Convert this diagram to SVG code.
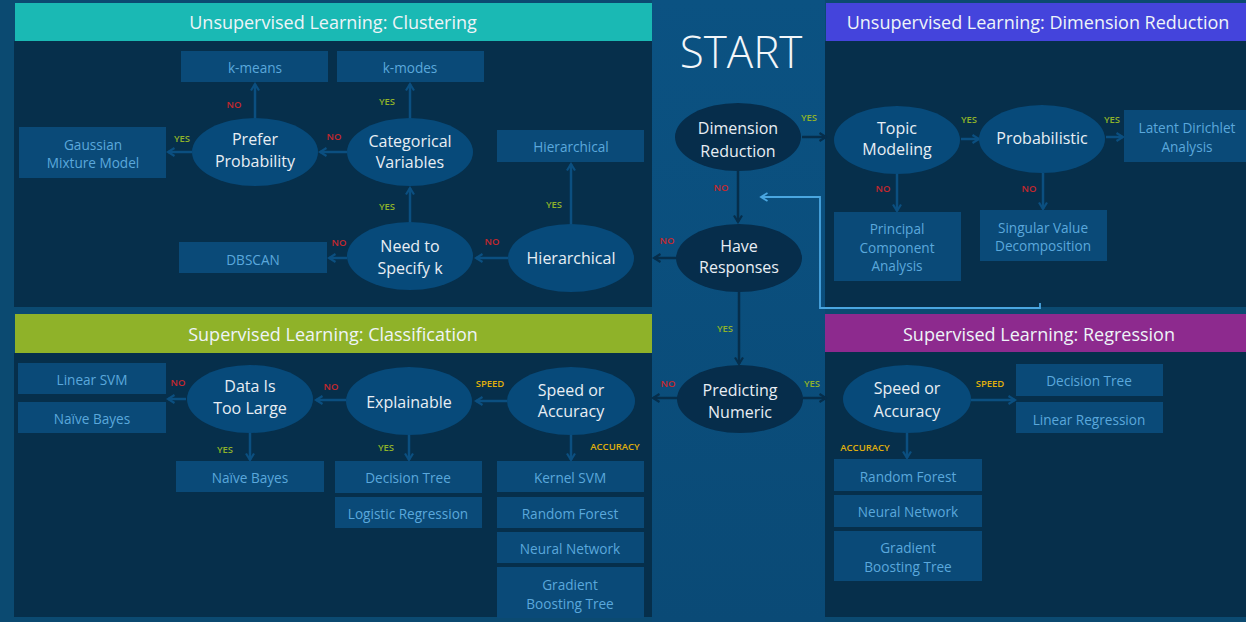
<svg xmlns="http://www.w3.org/2000/svg" width="1246" height="622" viewBox="0 0 1246 622">
<defs>
<linearGradient id="cg" x1="0" y1="0" x2="0" y2="1">
<stop offset="0" stop-color="#0b5282"/>
<stop offset="1" stop-color="#0a4a76"/>
</linearGradient>
<marker id="ma" viewBox="0 0 10 10" markerWidth="10" markerHeight="10" refX="8" refY="5" orient="auto" markerUnits="userSpaceOnUse">
<path d="M1.5,1 L8,5 L1.5,9" fill="none" stroke="#0b4f80" stroke-width="2.2"/>
</marker>
<marker id="md" viewBox="0 0 10 10" markerWidth="10" markerHeight="10" refX="8" refY="5" orient="auto" markerUnits="userSpaceOnUse">
<path d="M1.5,1 L8,5 L1.5,9" fill="none" stroke="#062e4b" stroke-width="2.2"/>
</marker>
<marker id="ml" viewBox="0 0 10 10" markerWidth="10" markerHeight="10" refX="8" refY="5" orient="auto" markerUnits="userSpaceOnUse">
<path d="M1.5,1 L8,5 L1.5,9" fill="none" stroke="#4aa6e0" stroke-width="1.8"/>
</marker>
</defs>
<style>
text{font-family:"Open Sans","Noto Sans",sans-serif;text-anchor:middle;dominant-baseline:central}
.hd{font-size:18px;fill:#eef4f8}
.el{fill:#074a7a}
.eld{fill:#062d4b}
.et{font-size:16px;fill:#e8eef4}
.bx{fill:#0a4a78}
.bt{font-size:13.6px;fill:#5aa8dc}
.yes{font-size:9.5px;font-weight:600;fill:#8fb32a}
.no{font-size:9.5px;font-weight:600;fill:#c4282e}
.sp{font-size:9.5px;font-weight:600;fill:#e0b00c}
.ca{stroke:#0b4f80;stroke-width:2.5;fill:none;marker-end:url(#ma)}
.cd{stroke:#062e4b;stroke-width:2.5;fill:none;marker-end:url(#md)}
.cl{stroke:#4aa6e0;stroke-width:1.8;fill:none;marker-end:url(#ml)}
</style>

<g id="background">
<rect x="0" y="0" width="1246" height="622" fill="#0b4a71"/>
<rect x="652" y="0" width="173" height="622" fill="url(#cg)"/>
<rect x="14" y="41" width="638" height="266" fill="#062f4b"/>
<rect x="14" y="353" width="638" height="264" fill="#062f4b"/>
<rect x="825" y="41" width="421" height="266" fill="#062f4b"/>
<rect x="825" y="352" width="421" height="265" fill="#062f4b"/>
</g>

<g id="headers">
<rect x="15" y="3" width="637" height="38" fill="#1ab9b4"/>
<text class="hd" x="333" y="22">Unsupervised Learning: Clustering</text>
<rect x="826" y="3" width="420" height="38" fill="#4444dc"/>
<text class="hd" x="1038" y="22">Unsupervised Learning: Dimension Reduction</text>
<rect x="15" y="314" width="637" height="39" fill="#8fb229"/>
<text class="hd" x="333" y="334">Supervised Learning: Classification</text>
<rect x="825" y="314" width="421" height="38" fill="#8d2a8e"/>
<text class="hd" x="1039" y="334">Supervised Learning: Regression</text>
</g>

<g id="start">
<text x="741" y="51" style="font-size:44px;font-weight:300;fill:#f2f6f9">START</text>
</g>

<g id="connectors">
<path class="ca" d="M255,118 V84"/>
<path class="ca" d="M410,118 V84"/>
<path class="ca" d="M347,152 H320"/>
<path class="ca" d="M192,152 H168"/>
<path class="ca" d="M571,224 V164"/>
<path class="ca" d="M508,258 H476"/>
<path class="ca" d="M410,222 V188"/>
<path class="ca" d="M347,258 H329"/>
<path class="cd" d="M802,137 H826"/>
<path class="cd" d="M738,171 V222"/>
<path class="cd" d="M676,258 H654"/>
<path class="cd" d="M739,292 V364"/>
<path class="cd" d="M678,398 H653"/>
<path class="cd" d="M803,398 H826"/>
<path class="cl" d="M1040,303 V308 H820 V197 H761"/>
<path class="ca" d="M961,139 H979"/>
<path class="ca" d="M1106,137 H1123"/>
<path class="ca" d="M897,174 V211"/>
<path class="ca" d="M1043,173 V209"/>
<path class="ca" d="M186,399 H168"/>
<path class="ca" d="M346,400 H316"/>
<path class="ca" d="M250,433 V460"/>
<path class="ca" d="M409,435 V460"/>
<path class="ca" d="M507,401 H476"/>
<path class="ca" d="M571,435 V460"/>
<path class="ca" d="M971,400 H1015"/>
<path class="ca" d="M907,433 V458"/>
</g>

<g id="labels">
<text class="no" x="234" y="104">NO</text>
<text class="yes" x="387" y="101">YES</text>
<text class="no" x="334" y="136">NO</text>
<text class="yes" x="182" y="138">YES</text>
<text class="yes" x="554" y="204">YES</text>
<text class="no" x="492" y="241">NO</text>
<text class="yes" x="387" y="206">YES</text>
<text class="no" x="339" y="242">NO</text>
<text class="yes" x="809" y="117">YES</text>
<text class="no" x="721" y="187">NO</text>
<text class="no" x="667" y="240">NO</text>
<text class="yes" x="725" y="328">YES</text>
<text class="no" x="668" y="383">NO</text>
<text class="yes" x="812" y="383">YES</text>
<text class="yes" x="969" y="119">YES</text>
<text class="yes" x="1112" y="119">YES</text>
<text class="no" x="883" y="188">NO</text>
<text class="no" x="1029" y="188">NO</text>
<text class="no" x="178" y="382">NO</text>
<text class="no" x="331" y="386">NO</text>
<text class="yes" x="225" y="449">YES</text>
<text class="yes" x="386" y="447">YES</text>
<text class="sp" x="490" y="383">SPEED</text>
<text class="sp" x="615" y="446">ACCURACY</text>
<text class="sp" x="990" y="383">SPEED</text>
<text class="sp" x="865" y="447">ACCURACY</text>
</g>

<g id="n-kmeans"><rect class="bx" x="181" y="51" width="147" height="31"/><text class="bt" x="255" y="67">k-means</text></g>
<g id="n-kmodes"><rect class="bx" x="337" y="51" width="147" height="31"/><text class="bt" x="410" y="67">k-modes</text></g>
<g id="n-gmm"><rect class="bx" x="19" y="127" width="147" height="51"/><text class="bt" x="93" y="144">Gaussian</text><text class="bt" x="93" y="162">Mixture Model</text></g>
<g id="n-prefer"><ellipse class="el" cx="255" cy="152" rx="63" ry="34"/><text class="et" x="255" y="139">Prefer</text><text class="et" x="255" y="161">Probability</text></g>
<g id="n-categorical"><ellipse class="el" cx="410" cy="152" rx="63" ry="34"/><text class="et" x="410" y="141">Categorical</text><text class="et" x="410" y="162">Variables</text></g>
<g id="n-hier-box"><rect class="bx" x="497" y="130" width="147" height="32"/><text class="bt" x="571" y="146">Hierarchical</text></g>
<g id="n-hier"><ellipse class="el" cx="571" cy="258" rx="63" ry="34"/><text class="et" x="571" y="258">Hierarchical</text></g>
<g id="n-needk"><ellipse class="el" cx="410" cy="256" rx="63" ry="34"/><text class="et" x="410" y="246">Need to</text><text class="et" x="410" y="268">Specify k</text></g>
<g id="n-dbscan"><rect class="bx" x="179" y="242" width="148" height="31"/><text class="bt" x="253" y="259">DBSCAN</text></g>

<g id="n-dimred"><ellipse class="eld" cx="738" cy="137" rx="63" ry="34"/><text class="et" x="738" y="128">Dimension</text><text class="et" x="738" y="151">Reduction</text></g>
<g id="n-responses"><ellipse class="eld" cx="739" cy="258" rx="63" ry="34"/><text class="et" x="739" y="246">Have</text><text class="et" x="739" y="267">Responses</text></g>
<g id="n-numeric"><ellipse class="eld" cx="740" cy="399" rx="63" ry="34"/><text class="et" x="740" y="390">Predicting</text><text class="et" x="740" y="412">Numeric</text></g>

<g id="n-topic"><ellipse class="el" cx="897" cy="140" rx="63" ry="34"/><text class="et" x="897" y="128">Topic</text><text class="et" x="897" y="149">Modeling</text></g>
<g id="n-prob"><ellipse class="el" cx="1042" cy="139" rx="63" ry="34"/><text class="et" x="1042" y="138">Probabilistic</text></g>
<g id="n-lda"><rect class="bx" x="1124" y="110" width="122" height="52"/><text class="bt" x="1187" y="127">Latent Dirichlet</text><text class="bt" x="1187" y="146">Analysis</text></g>
<g id="n-pca"><rect class="bx" x="834" y="212" width="127" height="69"/><text class="bt" x="897" y="228">Principal</text><text class="bt" x="897" y="247">Component</text><text class="bt" x="897" y="265">Analysis</text></g>
<g id="n-svd"><rect class="bx" x="980" y="210" width="127" height="51"/><text class="bt" x="1043" y="227">Singular Value</text><text class="bt" x="1043" y="245">Decomposition</text></g>

<g id="n-linsvm"><rect class="bx" x="18" y="363" width="148" height="31"/><text class="bt" x="92" y="379">Linear SVM</text></g>
<g id="n-nb1"><rect class="bx" x="18" y="402" width="148" height="31"/><text class="bt" x="92" y="418">Naïve Bayes</text></g>
<g id="n-large"><ellipse class="el" cx="250" cy="399" rx="63" ry="34"/><text class="et" x="250" y="386">Data Is</text><text class="et" x="250" y="408">Too Large</text></g>
<g id="n-explain"><ellipse class="el" cx="409" cy="401" rx="63" ry="34"/><text class="et" x="409" y="402">Explainable</text></g>
<g id="n-speed1"><ellipse class="el" cx="571" cy="401" rx="64" ry="34"/><text class="et" x="571" y="390">Speed or</text><text class="et" x="571" y="411">Accuracy</text></g>
<g id="n-nb2"><rect class="bx" x="176" y="461" width="148" height="31"/><text class="bt" x="250" y="477">Naïve Bayes</text></g>
<g id="n-dt1"><rect class="bx" x="335" y="461" width="147" height="32"/><text class="bt" x="408" y="477">Decision Tree</text></g>
<g id="n-logreg"><rect class="bx" x="335" y="497" width="147" height="31"/><text class="bt" x="408" y="513">Logistic Regression</text></g>
<g id="n-ksvm"><rect class="bx" x="497" y="461" width="147" height="31"/><text class="bt" x="570" y="477">Kernel SVM</text></g>
<g id="n-rf1"><rect class="bx" x="497" y="497" width="147" height="31"/><text class="bt" x="570" y="513">Random Forest</text></g>
<g id="n-nn1"><rect class="bx" x="497" y="532" width="147" height="31"/><text class="bt" x="570" y="548">Neural Network</text></g>
<g id="n-gbt1"><rect class="bx" x="497" y="567" width="147" height="51"/><text class="bt" x="570" y="584">Gradient</text><text class="bt" x="570" y="603">Boosting Tree</text></g>

<g id="n-speed2"><ellipse class="el" cx="907" cy="399" rx="64" ry="34"/><text class="et" x="907" y="388">Speed or</text><text class="et" x="907" y="411">Accuracy</text></g>
<g id="n-dt2"><rect class="bx" x="1016" y="364" width="147" height="32"/><text class="bt" x="1089" y="380">Decision Tree</text></g>
<g id="n-linreg"><rect class="bx" x="1016" y="402" width="147" height="31"/><text class="bt" x="1089" y="419">Linear Regression</text></g>
<g id="n-rf2"><rect class="bx" x="834" y="459" width="148" height="32"/><text class="bt" x="908" y="476">Random Forest</text></g>
<g id="n-nn2"><rect class="bx" x="834" y="495" width="148" height="32"/><text class="bt" x="908" y="511">Neural Network</text></g>
<g id="n-gbt2"><rect class="bx" x="834" y="531" width="148" height="50"/><text class="bt" x="908" y="547">Gradient</text><text class="bt" x="908" y="566">Boosting Tree</text></g>
</svg>
